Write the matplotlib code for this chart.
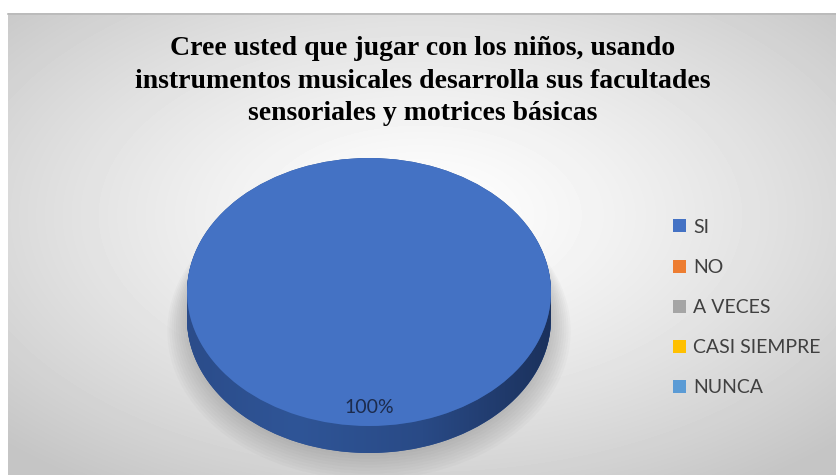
import numpy as np
import matplotlib
matplotlib.use('Agg')
import matplotlib.pyplot as plt
from matplotlib.path import Path
from matplotlib.patches import Ellipse, PathPatch
from matplotlib.lines import Line2D

title = ("Cree usted que jugar con los niños, usando\n"
         "instrumentos musicales desarrolla sus facultades\n"
         "sensoriales y motrices básicas")
categories = ["SI", "NO", "A VECES", "CASI SIEMPRE", "NUNCA"]
values = [100, 0, 0, 0, 0]
colors = ["#4472C4", "#ED7D31", "#A5A5A5", "#FFC000", "#5B9BD5"]

W, H = 837, 475
fig = plt.figure(figsize=(W / 100, H / 100), dpi=100)
fig.patch.set_facecolor('white')

# ---- background radial gradient (chart area) ----
bg = fig.add_axes([8 / W, 0, 1 - 8 / W, (H - 13) / H])
bg.set_axis_off()
ny, nx = 462, 829
yy, xx = np.mgrid[0:ny, 0:nx]
cx, cy = 420 - 8, 215 - 13
r = np.sqrt(((xx - cx) / (nx / 2)) ** 2 + ((yy - cy) / (ny / 2)) ** 2) / np.sqrt(2)
v = 1 - 0.23 * np.clip(r, 0, 1) ** 1.3
bg.imshow(v, cmap='gray', vmin=0, vmax=1, aspect='auto', extent=[0, 1, 1, 0],
          interpolation='bilinear')
bg.set_xlim(0, 1)
bg.set_ylim(1, 0)
fig.add_artist(Line2D([8 / W, 1], [1 - 13.5 / H] * 2, color='#b8b8b8', lw=1.2))

# ---- pie axes (elliptical 3D look) ----
x0, x1 = 187, 551
ytop, ybot_top = 158, 426
thick = 27
b = (ybot_top - ytop) / 2
t = thick / b
ax = fig.add_axes([x0 / W, 1 - (ybot_top + thick) / H, (x1 - x0) / W, (ybot_top + thick - ytop) / H])
ax.set_axis_off()

# soft shadow (mostly around side and bottom)
for k in range(10):
    e = Ellipse((0.0, -t - 0.01 * k), 2 * (1.0 + 0.012 * k), 2 * (1.0 + 0.012 * k),
                facecolor='#505050', edgecolor='none', alpha=0.03, zorder=0, clip_on=False)
    ax.add_patch(e)

# side layers
for off in np.linspace(t, 0.0, 40):
    ws, _ = ax.pie(values, colors=['#2F5597'] * len(values), center=(0, -off), radius=1,
                   startangle=90, counterclock=False, wedgeprops=dict(linewidth=0))
    for w in ws:
        w.set_zorder(1)

# side gradient overlay
th = np.linspace(np.pi, 2 * np.pi, 200)
xs = np.concatenate([np.cos(th), np.cos(th[::-1])])
ys = np.concatenate([np.sin(th), np.sin(th[::-1]) - t])
side_path = Path(np.column_stack([xs, ys]))
gx = np.linspace(-1, 1, 300)
stops_x = [-1.0, -0.4, 0.3, 1.0]
stops_c = np.array([[0x2b, 0x4c, 0x8a], [0x2f, 0x55, 0x97], [0x29, 0x4a, 0x86], [0x1b, 0x31, 0x5c]]) / 255
grad = np.stack([np.interp(gx, stops_x, stops_c[:, i]) for i in range(3)], axis=-1)
grad = np.repeat(grad[None, :, :], 10, axis=0)
im = ax.imshow(grad, extent=[-1, 1, -1 - t, 0], aspect='auto', zorder=2, interpolation='bilinear')
clip = PathPatch(side_path, transform=ax.transData, facecolor='none', edgecolor='none')
ax.add_patch(clip)
im.set_clip_path(clip)

# top face
wedges, _, autotexts = ax.pie(values, colors=colors, radius=1, startangle=90, counterclock=False,
                              autopct=lambda p: f'{p:.0f}%' if p > 0 else '',
                              pctdistance=0.86, wedgeprops=dict(linewidth=0),
                              textprops=dict(color='#1c2b4c', fontsize=14, family='Lato'))
for w in wedges:
    w.set_zorder(3)
for a in autotexts:
    a.set_zorder(4)
ax.set_aspect('auto')
ax.set_xlim(-1, 1)
ax.set_ylim(-1 - t, 1)

# ---- title ----
fig.text(0.5 * (8 + W) / W, 1 - 81 / H, title, ha='center', va='center',
         fontsize=20, fontweight='bold', family='Liberation Serif', color='black',
         linespacing=1.4)

# ---- legend ----
leg = fig.legend(wedges, categories, loc='center left',
                 bbox_to_anchor=(673 / W, 1 - 307.5 / H), frameon=False,
                 handlelength=0.65, handleheight=0.65, handletextpad=0.4,
                 labelspacing=1.19, borderpad=0, borderaxespad=0,
                 prop=dict(family='Lato', size=14))
for txt in leg.get_texts():
    txt.set_color('#404040')

fig.savefig('out.png', dpi=100, facecolor='white')
